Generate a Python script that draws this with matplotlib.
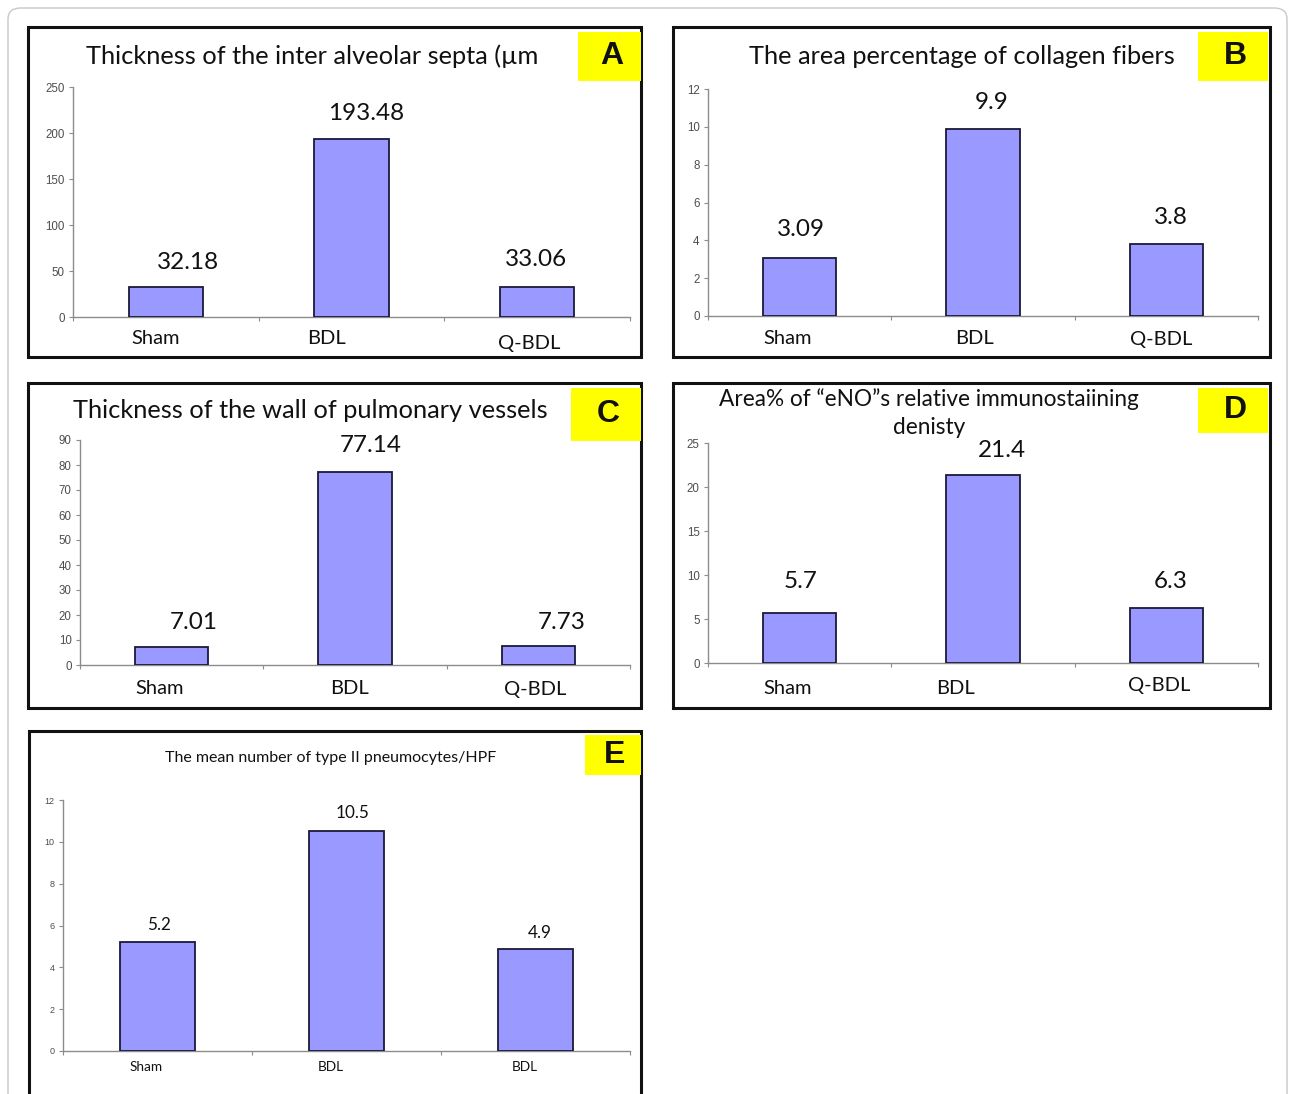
import matplotlib
matplotlib.use("Agg")
import matplotlib.pyplot as plt
from matplotlib.patches import Rectangle, FancyBboxPatch

W, H = 1289, 1094

# ---- data ----
cats_a = ["Sham", "BDL", "Q-BDL"]
vals_a = [32.18, 193.48, 33.06]
ticks_a = [0, 50, 100, 150, 200, 250]

cats_b = ["Sham", "BDL", "Q-BDL"]
vals_b = [3.09, 9.9, 3.8]
ticks_b = [0, 2, 4, 6, 8, 10, 12]

cats_c = ["Sham", "BDL", "Q-BDL"]
vals_c = [7.01, 77.14, 7.73]
ticks_c = [0, 10, 20, 30, 40, 50, 60, 70, 80, 90]

cats_d = ["Sham", "BDL", "Q-BDL"]
vals_d = [5.7, 21.4, 6.3]
ticks_d = [0, 5, 10, 15, 20, 25]

cats_e = ["Sham", "BDL", "BDL"]
vals_e = [5.2, 10.5, 4.9]
ticks_e = [0, 2, 4, 6, 8, 10, 12]

BAR = "#9999ff"
FONT = "Lato"


def fx(x):
    return x / W


def fy(y):
    return 1 - y / H


def rect(x0, y0, x1, y1):
    return [fx(x0), fy(y1), (x1 - x0) / W, (y1 - y0) / H]


fig = plt.figure(figsize=(W / 100, H / 100), dpi=100)

# light outer frame
fig.add_artist(FancyBboxPatch((fx(8), fy(1110)), fx(1279), (1102) / H,
                              boxstyle="round,pad=0,rounding_size=0.01",
                              transform=fig.transFigure, fill=False,
                              edgecolor="#c8c8c8", linewidth=1))

panels = [
    dict(letter="A", cats=cats_a, vals=vals_a, ticks=ticks_a,
         title="Thickness of the inter alveolar septa (µm", tsize=18.3, tpos=(312, 56),
         box=(28, 27, 641, 357), ax=(73, 87, 630, 317), ybox=(578, 32, 641, 81),
         vsize=17.5, csize=14.5, ticksize=8.3,
         vdx=[22, 15, -1], vdy=[25, 25, 27], cdx=[-10, -25, -8], cdy=[22, 22, 26]),
    dict(letter="B", cats=cats_b, vals=vals_b, ticks=ticks_b,
         title="The area percentage of collagen fibers", tsize=18.3, tpos=(962, 56),
         box=(673, 27, 1270, 357), ax=(708, 89, 1258, 316), ybox=(1198, 32, 1268, 81),
         vsize=17.5, csize=14.5, ticksize=8.3,
         vdx=[1, 9, 5], vdy=[28, 26, 27], cdx=[-12, -8, -5], cdy=[23, 23, 23]),
    dict(letter="C", cats=cats_c, vals=vals_c, ticks=ticks_c,
         title="Thickness of the wall of pulmonary vessels", tsize=18.3, tpos=(310, 411),
         box=(28, 383, 641, 708), ax=(80, 440, 630, 665), ybox=(571, 388, 641, 441),
         vsize=17.5, csize=14.5, ticksize=8.3,
         vdx=[22, 16, 23], vdy=[25, 27, 23], cdx=[-12, -5, -3], cdy=[24, 23, 24]),
    dict(letter="D", cats=cats_d, vals=vals_d, ticks=ticks_d,
         title="Area% of \u201ceNO\u201ds relative immunostaiining\ndenisty", tsize=16.3, tpos=(929, 413),
         box=(673, 383, 1270, 708), ax=(708, 443, 1258, 663), ybox=(1198, 388, 1268, 433),
         vsize=17.5, csize=14.5, ticksize=8.3, lsp=1.4,
         vdx=[1, 19, 4], vdy=[31, 24, 26], cdx=[-12, -27, -7], cdy=[26, 25, 23]),
    dict(letter="E", cats=cats_e, vals=vals_e, ticks=ticks_e,
         title="The mean number of type II pneumocytes/HPF", tsize=11.5, tpos=(331, 758),
         box=(29, 731, 641, 1110), ax=(63, 800, 630, 1051), ybox=(585, 735, 641, 775),
         vsize=12.3, csize=9.8, ticksize=6.5,
         vdx=[1, 6, 4], vdy=[17, 18, 16], cdx=[-11, -16, -11], cdy=[16, 16, 16]),
]

for p in panels:
    x0, y0, x1, y1 = p["box"]
    fig.add_artist(Rectangle((fx(x0), fy(y1)), (x1 - x0) / W, (y1 - y0) / H,
                             transform=fig.transFigure, fill=False,
                             edgecolor="#111111", linewidth=2.2))

    ax = fig.add_axes(rect(*p["ax"]))
    xs = range(len(p["vals"]))
    ax.bar(xs, p["vals"], width=0.4, color=BAR, edgecolor="#1a1a3a", linewidth=1.3, zorder=3)
    ax.set_xlim(-0.5, len(p["vals"]) - 0.5)
    ax.set_ylim(0, p["ticks"][-1])
    ax.set_yticks(p["ticks"])
    ax.tick_params(axis="y", labelsize=p["ticksize"], colors="#8c8c8c", labelcolor="#4d4d4d",
                   length=3, width=0.8, pad=3)
    for lab in ax.get_yticklabels():
        lab.set_family("Liberation Sans")
    ax.set_xticks([])
    ax.set_xticks([i - 0.5 for i in range(len(p["vals"]) + 1)], minor=True)
    ax.tick_params(axis="x", which="minor", length=3, width=0.8, colors="#8c8c8c")
    for s in ["top", "right"]:
        ax.spines[s].set_visible(False)
    for s in ["left", "bottom"]:
        ax.spines[s].set_color("#8c8c8c")
        ax.spines[s].set_linewidth(1)
    ax.patch.set_alpha(0)

    for i, v in enumerate(p["vals"]):
        ax.annotate(f"{v:g}", xy=(i, v), xytext=(p["vdx"][i], p["vdy"][i]),
                    textcoords="offset pixels", ha="center", va="center",
                    fontsize=p["vsize"], family=FONT, color="#111111")
        ax.annotate(p["cats"][i], xy=(i, 0), xytext=(p["cdx"][i], -p["cdy"][i]),
                    textcoords="offset pixels", ha="center", va="center",
                    fontsize=p["csize"], family=FONT, color="#111111",
                    annotation_clip=False)

    tx, ty = p["tpos"]
    fig.text(fx(tx), fy(ty), p["title"], ha="center", va="center",
             fontsize=p["tsize"], family=FONT, color="#111111",
             linespacing=p.get("lsp", 1.1))

    bx0, by0, bx1, by1 = p["ybox"]
    fig.add_artist(Rectangle((fx(bx0), fy(by1)), (bx1 - bx0) / W, (by1 - by0) / H,
                             transform=fig.transFigure, facecolor="#ffff00",
                             edgecolor="none", zorder=5))
    fig.text(fx((bx0 + bx1) / 2 + 2), fy((by0 + by1) / 2), p["letter"],
             ha="center", va="center", fontsize=23, fontweight="bold",
             family="Liberation Sans", color="#111111", zorder=6)

fig.savefig("out.png", dpi=100)
